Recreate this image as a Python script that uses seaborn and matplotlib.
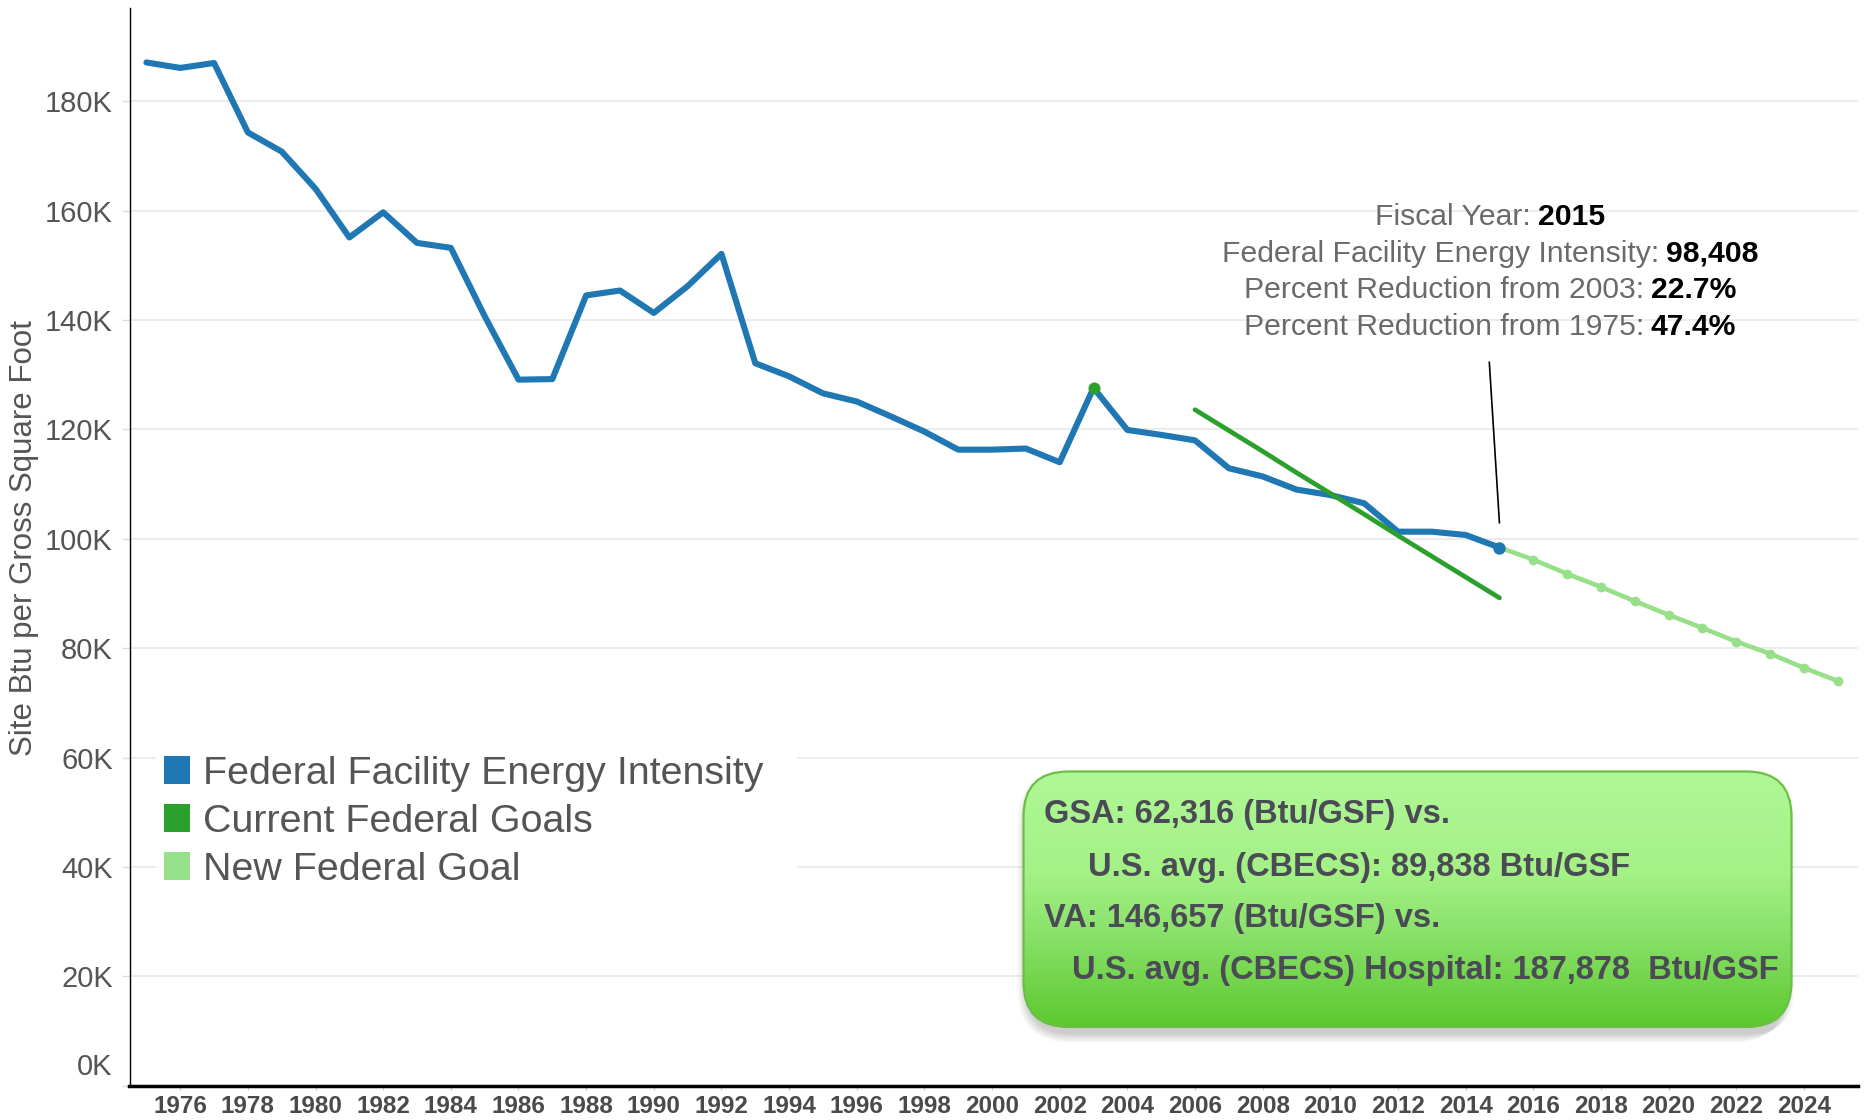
import numpy as np
import pandas as pd
import matplotlib
matplotlib.use("Agg")
import matplotlib.pyplot as plt
import seaborn as sns
from matplotlib import font_manager
from matplotlib.patches import Patch, FancyBboxPatch, Rectangle
from matplotlib.colors import LinearSegmentedColormap
from matplotlib.transforms import ScaledTranslation
from matplotlib.offsetbox import TextArea, HPacker, VPacker, AnnotationBbox

# ---------------- data ----------------
years = list(range(1975, 2016))
intensity = [187100, 186100, 187000, 174300, 170800, 164000, 155100, 159700, 154100, 153200,
             140700, 129100, 129200, 144500, 145400, 141300, 146200, 152100, 132100, 129700,
             126600, 125100, 122400, 119600, 116300, 116300, 116500, 114000, 127600, 119900,
             119000, 118000, 112900, 111400, 109000, 108000, 106500, 101300, 101300, 100700,
             98408]

baseline_year = [2003]
baseline_value = [127600]

goal_years = list(range(2006, 2016))
goal_values = [123600, 119800, 116000, 112100, 108300, 104500, 100600, 96800, 93000, 89200]

new_goal_years = list(range(2015, 2026))
new_goal_values = [98408, 96200, 93600, 91200, 88600, 86100, 83700, 81200, 79000, 76400, 74000]

series_names = ["Federal Facility Energy Intensity", "Current Federal Goals", "New Federal Goal"]
series_colors = ["#1f77b4", "#2ca02c", "#98df8a"]

x_ticks = list(range(1976, 2025, 2))
y_ticks = list(range(0, 180001, 20000))

box_lines = ["GSA: 62,316 (Btu/GSF) vs.",
             "U.S. avg. (CBECS): 89,838 Btu/GSF",
             "VA: 146,657 (Btu/GSF) vs.",
             "U.S. avg. (CBECS) Hospital: 187,878  Btu/GSF"]

tip_labels = ["Fiscal Year:", "Federal Facility Energy Intensity:",
              "Percent Reduction from 2003:", "Percent Reduction from 1975:"]
tip_values = ["2015", "98,408", "22.7%", "47.4%"]

# ---------------- style ----------------
sns.set_theme(style="white")
plt.rcParams["font.family"] = ["Liberation Sans", "DejaVu Sans"]
names = {f.name for f in font_manager.fontManager.ttflist}
if "Liberation Sans Narrow" in names:
    box_font, box_size = ["Liberation Sans Narrow", "DejaVu Sans"], 28.5
else:
    box_font, box_size = ["Liberation Sans", "DejaVu Sans"], 23.5

W, H = 1864, 1120
fig = plt.figure(figsize=(W / 100, H / 100), dpi=100)
ax = fig.add_axes([129.5 / W, 1 - 1085.7 / H, (1858 - 129.5) / W, (1085.7 - 8.3) / H])

df_act = pd.DataFrame({"year": years, "value": intensity})
df_goal = pd.DataFrame({"year": goal_years, "value": goal_values})
df_new = pd.DataFrame({"year": new_goal_years, "value": new_goal_values})

sns.lineplot(data=df_new, x="year", y="value", ax=ax, color=series_colors[2], linewidth=3.3,
             marker="o", markersize=7, markeredgewidth=0, zorder=3)
sns.lineplot(data=df_act, x="year", y="value", ax=ax, color=series_colors[0], linewidth=4.4,
             zorder=4)
sns.lineplot(data=df_goal, x="year", y="value", ax=ax, color=series_colors[1], linewidth=3.4,
             zorder=5)
sns.scatterplot(x=baseline_year, y=baseline_value, ax=ax, color=series_colors[1], s=75,
                linewidth=0, zorder=6)
sns.scatterplot(x=[years[-1]], y=[intensity[-1]], ax=ax, color=series_colors[0], s=80,
                linewidth=0, zorder=6)
for ln in ax.lines:
    ln.set_solid_joinstyle("round")
    ln.set_solid_capstyle("round")

ax.set_xlim(1974.5, 2025.6)
ax.set_ylim(0, 197000)
ax.set_xticks(x_ticks)
ax.set_xticklabels([str(t) for t in x_ticks], fontsize=17.5, fontweight="bold", color="#4a4a4a")
ax.set_yticks(y_ticks)
ax.set_yticklabels([f"{t // 1000}K" for t in y_ticks], fontsize=21, color="#555555")
ax.tick_params(axis="x", length=3, width=1, color="#cccccc", pad=4, bottom=True)
ax.tick_params(axis="y", length=6, width=1, color="#dddddd", pad=6, left=True)
# Tableau lifts the 0K label above the axis line
zero_lbl = ax.get_yticklabels()[0]
zero_lbl.set_transform(zero_lbl.get_transform() + ScaledTranslation(0, 0.22, fig.dpi_scale_trans))
ax.set_xlabel("")
ax.set_ylabel("")
ax.yaxis.grid(True, color="#ebebeb", linewidth=1.3)
ax.xaxis.grid(False)
for s in ["top", "right"]:
    ax.spines[s].set_visible(False)
ax.spines["left"].set_color("black")
ax.spines["left"].set_linewidth(1.0)
ax.spines["bottom"].set_color("black")
ax.spines["bottom"].set_linewidth(2.5)

fig.text(24 / W, 1 - 538 / H, "Site Btu per Gross Square Foot", rotation=90,
         ha="center", va="center", fontsize=22.5, color="#555555")

# legend (white panel hides the gridlines behind it)
ax.add_patch(Rectangle((156 / W, 1 - 892 / H), (797 - 156) / W, (892 - 745) / H,
                       transform=fig.transFigure, facecolor="white", edgecolor="none",
                       zorder=1, clip_on=False))
handles = [Patch(facecolor=c, edgecolor="none") for c in series_colors]
leg = ax.legend(handles, series_names, loc="upper left",
                bbox_to_anchor=(156 / W, 1 - 748 / H), bbox_transform=fig.transFigure,
                fontsize=28.4, frameon=False,
                handlelength=0.67, handleheight=0.72, handletextpad=0.33, labelspacing=0.30,
                borderpad=0.2, borderaxespad=0)
for t in leg.get_texts():
    t.set_color("#555555")

# tooltip annotation
rows = []
for lab, val in zip(tip_labels, tip_values):
    rows.append(HPacker(children=[TextArea(lab, textprops=dict(fontsize=21.7, color="#6a6a6a")),
                                  TextArea(val, textprops=dict(fontsize=21.7, color="black",
                                                               fontweight="bold"))],
                        align="baseline", pad=0, sep=5))
tip = VPacker(children=rows, align="center", pad=0, sep=6.3)
ab = AnnotationBbox(tip, (1490, H - 272), xycoords="figure pixels", frameon=False,
                    box_alignment=(0.5, 0.5))
fig.add_artist(ab)
ax.annotate("", xy=(2015, 102900), xytext=(2014.7, 132300),
            arrowprops=dict(arrowstyle="-", color="black", lw=1.2, shrinkA=0, shrinkB=0))

# green callout box
bx0, by0, bw, bh, m = 1023.5, 1027, 768, 255.5, 24
bax = fig.add_axes([(bx0 - m) / W, (H - by0 - m) / H, (bw + 2 * m) / W, (bh + 2 * m) / H])
bax.set_xlim(-m, bw + m)
bax.set_ylim(-m, bh + m)
bax.axis("off")
bax.patch.set_alpha(0)
for i in range(10):
    sh = FancyBboxPatch((3 - i, -7 - i), bw, bh + 2 * i,
                        boxstyle=f"round,pad=0,rounding_size={45 + i}",
                        facecolor="black", edgecolor="none", alpha=0.018, zorder=1)
    bax.add_patch(sh)
box = FancyBboxPatch((0, 0), bw, bh, boxstyle="round,pad=0,rounding_size=45",
                     facecolor="none", edgecolor="#6cbf45", linewidth=1.6, zorder=3)
bax.add_patch(box)
cmap = LinearSegmentedColormap.from_list(
    "g", [(0.0, "#5cc92e"), (0.35, "#88e068"), (0.6, "#a4f186"), (1.0, "#b0f897")])
grad = np.linspace(0, 1, 256).reshape(-1, 1)
img = bax.imshow(grad, extent=(0, bw, 0, bh), origin="lower", cmap=cmap, aspect="auto",
                 zorder=2)
img.set_clip_path(box)
for txt, xr, yr in zip(box_lines, [20.5, 64.5, 20.5, 48], [213, 159.5, 108, 56.2]):
    bax.text(xr, yr, txt, fontsize=box_size, fontweight="bold", color="#4b4b56",
             family=box_font, ha="left", va="center", zorder=4)

fig.savefig("out.png", dpi=100)
